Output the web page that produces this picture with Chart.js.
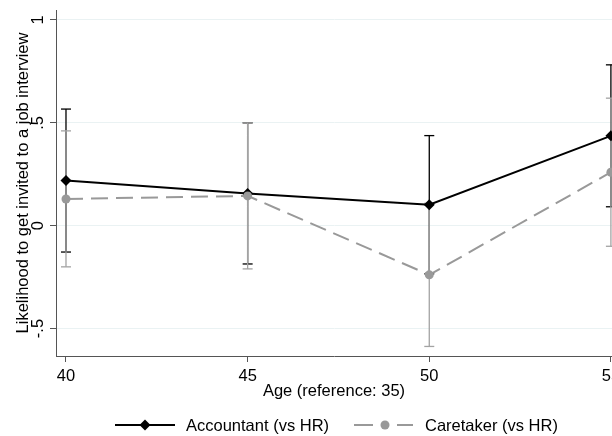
<!DOCTYPE html>
<html>
<head>
<meta charset="utf-8">
<script src="https://cdn.jsdelivr.net/npm/chart.js@4.4.1/dist/chart.umd.min.js"></script>
<style>
  html, body { margin: 0; padding: 0; background: #fff; overflow: hidden; }
  #wrap { width: 612px; height: 436px; overflow: hidden; }
  #chart { display: block; }
</style>
</head>
<body>
<div id="wrap"><canvas id="chart" width="640" height="436"></canvas></div>
<script>
// values (point estimate + 95% CI)
const ages = [40, 45, 50, 55];
const accountant = [0.22, 0.157, 0.102, 0.437];
const accountantLow = [-0.128, -0.186, -0.234, 0.092];
const accountantHigh = [0.567, 0.50, 0.438, 0.782];
const caretaker = [0.13, 0.145, -0.239, 0.26];
const caretakerLow = [-0.20, -0.21, -0.587, -0.10];
const caretakerHigh = [0.461, 0.50, 0.109, 0.62];

const xTicks = [40, 45, 50, 55];
const yTicks = [-0.5, 0, 0.5, 1];
const yTickLabels = ['-.5', '0', '.5', '1'];
const legendLabels = ['Accountant (vs HR)', 'Caretaker (vs HR)'];
const xTitle = 'Age (reference: 35)';
const yTitle = 'Likelihood to get invited to a job interview';

const FONT = '"Liberation Sans", Arial, sans-serif';
const GRAY = '#999999';
const BAR_GRAY = '#a3a3a3';

Chart.defaults.font.family = FONT;
Chart.defaults.font.size = 16.5;
Chart.defaults.color = '#000';

function toPoints(ys) {
  return ages.map((a, i) => ({ x: a, y: ys[i] }));
}

// one segment per age, broken by a null so the bars stay separate
function toBars(lo, hi) {
  const pts = [];
  ages.forEach((a, i) => {
    pts.push({ x: a, y: lo[i] }, { x: a, y: hi[i] }, { x: a, y: null });
  });
  return pts;
}

// Stata-style legend: line sample with marker in the middle
const sampleLegend = {
  id: 'sampleLegend',
  afterDraw(chart) {
    const c = chart.ctx;
    const y = 425;
    c.save();
    c.lineWidth = 2;
    c.strokeStyle = '#000';
    c.beginPath(); c.moveTo(115, y); c.lineTo(175, y); c.stroke();
    c.fillStyle = '#000';
    c.beginPath();
    c.moveTo(145, y - 5.5); c.lineTo(150.5, y); c.lineTo(145, y + 5.5); c.lineTo(139.5, y);
    c.closePath(); c.fill();

    c.strokeStyle = GRAY;
    c.setLineDash([19, 24]);
    c.beginPath(); c.moveTo(354, y); c.lineTo(413, y); c.stroke();
    c.setLineDash([]);
    c.fillStyle = GRAY;
    c.beginPath(); c.arc(385, y, 4.5, 0, Math.PI * 2); c.fill();

    c.fillStyle = '#000';
    c.font = '16.5px ' + FONT;
    c.textBaseline = 'middle';
    c.textAlign = 'left';
    c.fillText(legendLabels[0], 186, 426.5);
    c.fillText(legendLabels[1], 425, 426.5);
    c.restore();
  }
};

new Chart(document.getElementById('chart'), {
  type: 'line',
  data: {
    datasets: [
      {
        label: legendLabels[1],
        data: toPoints(caretaker),
        borderColor: GRAY,
        borderWidth: 2,
        borderDash: [17, 8],
        pointStyle: 'circle',
        pointRadius: 4.5,
        pointBackgroundColor: GRAY,
        pointBorderColor: GRAY,
        pointBorderWidth: 0,
        tension: 0
      },
      {
        label: legendLabels[0],
        data: toPoints(accountant),
        borderColor: '#000',
        borderWidth: 2,
        pointStyle: 'rectRot',
        pointRadius: 5.5,
        pointBackgroundColor: '#000',
        pointBorderColor: '#000',
        pointBorderWidth: 0,
        tension: 0
      },
      {
        label: 'caretaker CI',
        data: toBars(caretakerLow, caretakerHigh),
        borderColor: BAR_GRAY,
        borderWidth: 1.3,
        pointStyle: 'line',
        pointRadius: 5,
        pointBorderColor: BAR_GRAY,
        pointBorderWidth: 1.3,
        spanGaps: false
      },
      {
        label: 'accountant CI',
        data: toBars(accountantLow, accountantHigh),
        borderColor: '#000',
        borderWidth: 1.3,
        pointStyle: 'line',
        pointRadius: 5,
        pointBorderColor: '#000',
        pointBorderWidth: 1.3,
        spanGaps: false
      }
    ]
  },
  options: {
    responsive: false,
    animation: false,
    events: [],
    layout: { padding: { top: 10, right: 28, bottom: 35, left: 0 }, autoPadding: false },
    plugins: {
      legend: { display: false },
      tooltip: { enabled: false }
    },
    scales: {
      x: {
        type: 'linear',
        min: 39.725,
        max: 55.03,
        afterBuildTicks: (s) => { s.ticks = xTicks.map((v) => ({ value: v })); },
        afterFit: (s) => { s.height = 45; s.paddingLeft = 0; s.paddingRight = 0; },
        grid: { drawOnChartArea: false, tickLength: 6, tickColor: '#555', tickWidth: 1 },
        border: { color: '#555', width: 1 },
        ticks: { padding: 5, minRotation: 0, maxRotation: 0, autoSkip: false },
        title: { display: true, text: xTitle, padding: 0 }
      },
      y: {
        type: 'linear',
        min: -0.6334,
        max: 1.0486,
        afterBuildTicks: (s) => { s.ticks = yTicks.map((v) => ({ value: v })); },
        afterFit: (s) => { s.width = 56; s.paddingTop = 0; s.paddingBottom = 0; },
        grid: { color: '#eaf2f3', tickLength: 6, tickColor: '#555', tickWidth: 1 },
        border: { color: '#555', width: 1 },
        ticks: {
          padding: 2,
          minRotation: 90,
          maxRotation: 90,
          crossAlign: 'center',
          autoSkip: false,
          callback: (v) => yTickLabels[yTicks.indexOf(v)]
        },
        title: { display: true, text: yTitle, padding: { top: 14, bottom: 0 } }
      }
    }
  },
  plugins: [sampleLegend]
});
</script>
</body>
</html>
